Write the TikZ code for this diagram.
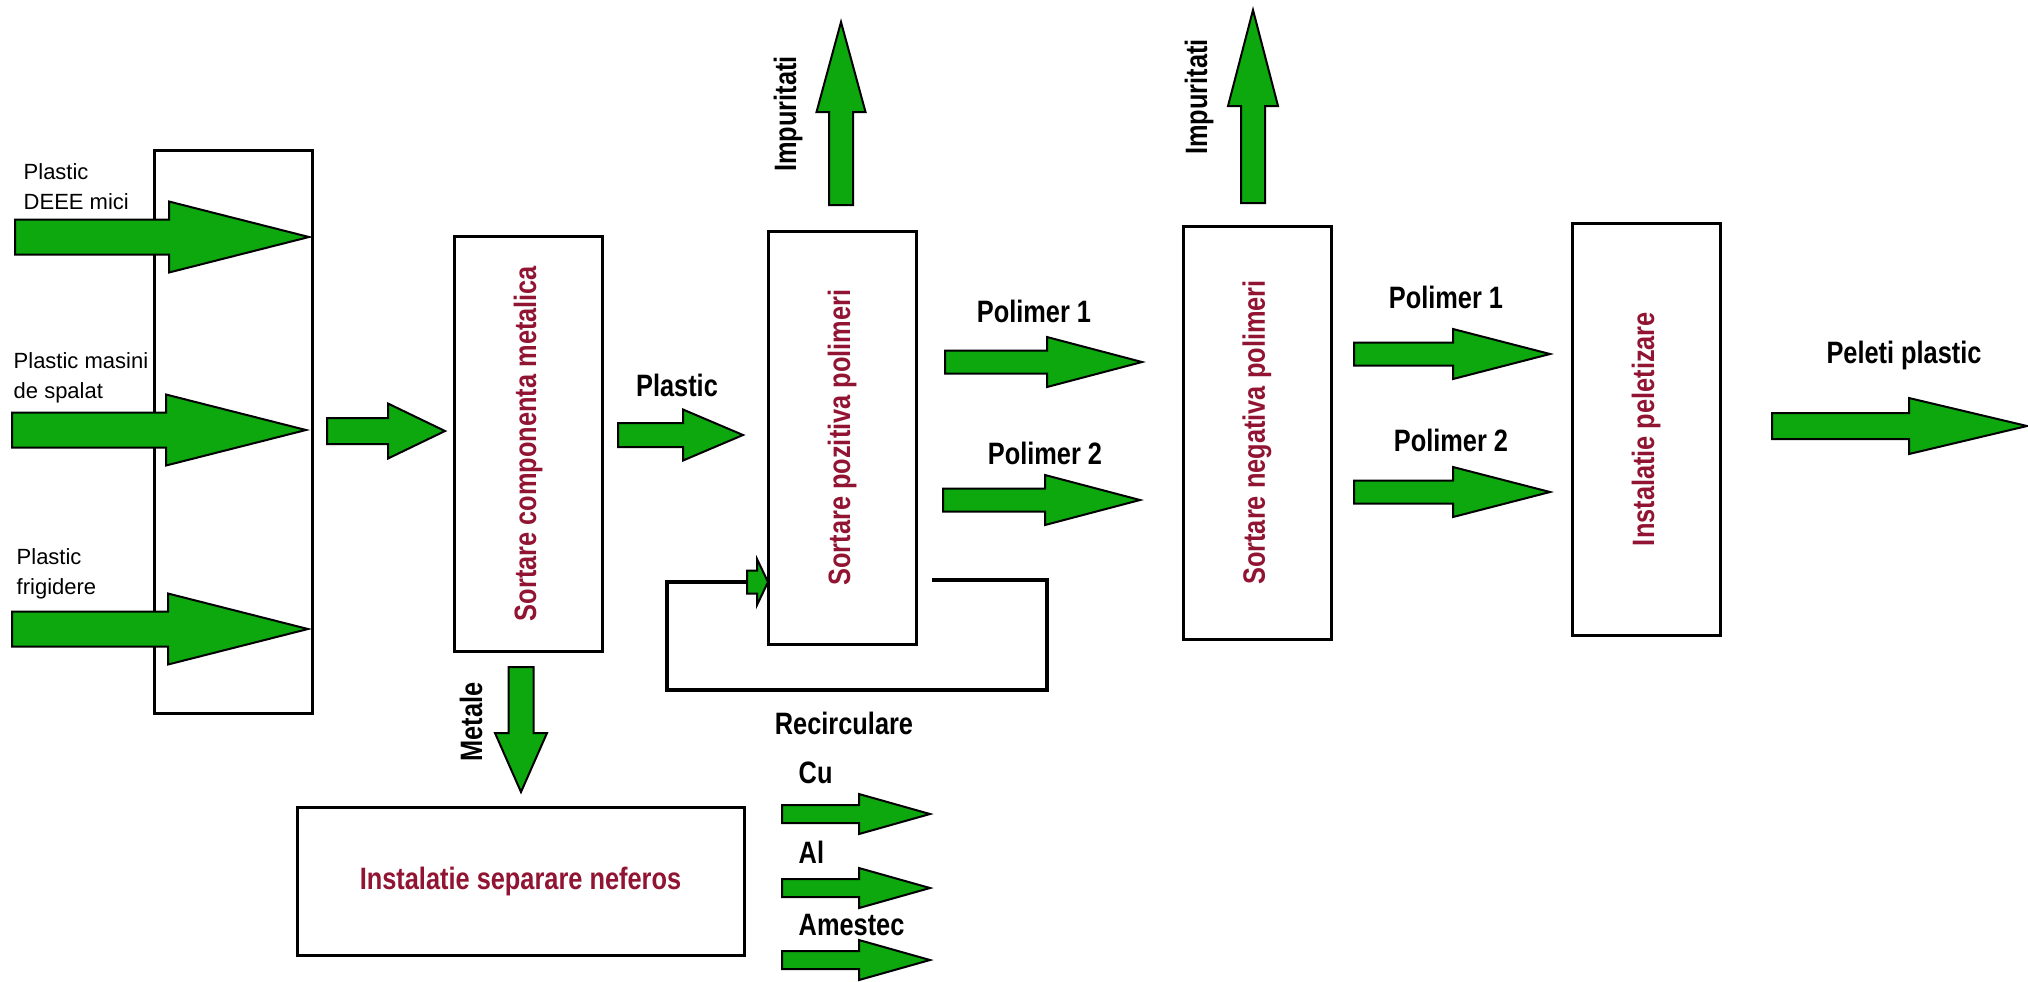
\documentclass[tikz,border=0pt]{standalone}
\usepackage{fontspec}
\setmainfont{Liberation Sans}
\newfontfamily\narrowfont[FakeStretch=0.82]{Liberation Sans}
\definecolor{verde}{RGB}{13,168,14}
\definecolor{grena}{RGB}{145,20,50}
% sageata plina: coada, unghi, lungime, lungime varf, semilatime corp, semilatime varf
\newcommand{\fluxarrow}[6]{%
  \draw[fill=verde, line width=0.2mm, shift={#1}, rotate=#2]
    (0,-#5) -- ({#3-#4},-#5) -- ({#3-#4},-#6) -- (#3,0) -- ({#3-#4},#6) -- ({#3-#4},#5) -- (0,#5) -- cycle;
}
\begin{document}
\begin{tikzpicture}[x=1mm, y=-1mm,
  every node/.style={inner sep=0pt},
  box/.style={draw, line width=0.3mm, text=grena, font=\narrowfont\bfseries\fontsize{8.8}{10.5}\selectfont},
  boxv/.style={box, rotate=90, minimum width=41.3mm, minimum height=14.8mm},
  lbl/.style={font=\narrowfont\bfseries\fontsize{8.8}{10.5}\selectfont},
  inlbl/.style={font=\fontsize{6.26}{8.54}\selectfont, align=left, anchor=west}]
	\useasboundingbox (0,0) rectangle (202.8,98.1);

	% Intrari
	\node[draw, line width=0.3mm, minimum width=15.8mm, minimum height=56.3mm] (intrare) at (23.3,43.15) {};
	\node[inlbl] (in1) at (2.3,18.7) {Plastic\\DEEE mici};
	\node[inlbl] (in2) at (1.3,37.8) {Plastic masini\\de spalat};
	\node[inlbl] (in3) at (1.6,57.35) {Plastic\\frigidere};
	\fluxarrow{(1.5,23.7)}{0}{29.4}{14.0}{1.75}{3.55}
	\fluxarrow{(1.2,43.0)}{0}{29.4}{14.0}{1.75}{3.55}
	\fluxarrow{(1.2,62.9)}{0}{29.6}{14.0}{1.75}{3.55}
	\fluxarrow{(32.7,43.1)}{0}{11.8}{5.7}{1.3}{2.75}

	% Sortare componenta metalica
	\node[boxv, minimum width=41.5mm] (comp) at (52.8,44.35) {Sortare componenta metalica};
	\fluxarrow{(52.1,66.7)}{-90}{12.5}{5.9}{1.25}{2.6}
	\node[lbl, rotate=90] (metale) at (47.1,72.2) {Metale};
	\node[box, minimum width=44.7mm, minimum height=14.8mm] (neferos) at (52.05,88.1) {Instalatie separare neferos};
	\foreach \ya/\yt/\t in {81.4/77.3/Cu, 88.8/85.2/Al, 96.0/92.5/Amestec} {
		\fluxarrow{(78.2,\ya)}{0}{14.8}{7.1}{0.9}{2.0}
		\node[lbl, anchor=west] (out\t) at (79.8,\yt) {\t};
	}

	% Sortare pozitiva
	\fluxarrow{(61.8,43.5)}{0}{12.5}{6.0}{1.2}{2.55}
	\node[lbl] (plastic) at (67.7,38.5) {Plastic};
	\node[boxv] (poz) at (84.2,43.75) {Sortare pozitiva polimeri};
	\fluxarrow{(84.1,20.5)}{90}{18.3}{9.0}{1.2}{2.45}
	\node[lbl, rotate=90] (imp1) at (78.8,11.4) {Impuritati};
	\fluxarrow{(94.5,36.2)}{0}{19.7}{9.5}{1.15}{2.5}
	\fluxarrow{(94.3,50.0)}{0}{19.7}{9.5}{1.15}{2.5}
	\node[lbl] (p1a) at (103.4,31.1) {Polimer 1};
	\node[lbl] (p2a) at (104.5,45.3) {Polimer 2};

	% Recirculare
	\coordinate (recstart) at (93.2,58.0);
	\coordinate (reccol) at (104.7,69.0);
	\coordinate (recleft) at (66.7,58.2);
	\coordinate (rectail) at (74.7,58.2);
	\draw[line width=0.4mm] (recstart) -| (reccol) -| (recleft) -- (rectail);
	\fluxarrow{(rectail)}{0}{2.1}{1.1}{1.15}{2.3}
	\node[lbl] (recirc) at (84.4,72.3) {Recirculare};

	% Sortare negativa
	\node[boxv] (neg) at (125.7,43.25) {Sortare negativa polimeri};
	\fluxarrow{(125.3,20.3)}{90}{19.3}{9.6}{1.2}{2.5}
	\node[lbl, rotate=90] (imp2) at (119.9,9.7) {Impuritati};
	\fluxarrow{(135.4,35.4)}{0}{19.6}{9.7}{1.15}{2.5}
	\fluxarrow{(135.4,49.2)}{0}{19.6}{9.7}{1.15}{2.5}
	\node[lbl] (p1b) at (144.6,29.7) {Polimer 1};
	\node[lbl] (p2b) at (145.1,44.0) {Polimer 2};

	% Peletizare
	\node[boxv, minimum width=41.2mm] (pel) at (164.6,42.9) {Instalatie peletizare};
	\fluxarrow{(177.2,42.6)}{0}{25.5}{11.8}{1.3}{2.8}
	\node[lbl] (peleti) at (190.4,35.5) {Peleti plastic};
\end{tikzpicture}
\end{document}
